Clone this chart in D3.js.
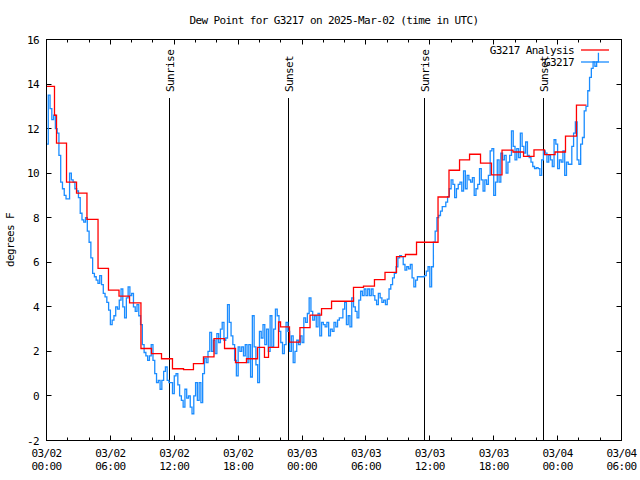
<!DOCTYPE html>
<html><head><meta charset="utf-8">
<script src="https://cdn.jsdelivr.net/npm/d3@7"></script>
<style>
body{margin:0;background:#fff}
svg{display:block}
text{font-family:"DejaVu Sans Mono",monospace;font-size:11px;letter-spacing:-0.6px;fill:#000}
</style></head><body>
<svg id="c" width="640" height="480"></svg>
<script>
// ---- data ----
const titleText = "Dew Point for G3217 on 2025-Mar-02 (time in UTC)";
const yLabelText = "degrees F";
const seriesNames = ["G3217 Analysis", "G3217"];
const obsStart = "2025-03-02T00:00:00Z";
const obsStepMinutes = 10;
const obsValues = [
11.3,13.5,12.9,12.4,12.6,12.0,11.8,10.8,9.6,9.3,
9.0,8.85,8.85,10.0,9.7,9.6,9.3,9.2,8.9,8.2,
7.9,7.8,8.0,7.4,6.9,6.2,5.5,5.35,5.2,5.05,
5.4,5.0,4.6,4.45,4.2,3.85,3.2,3.4,3.6,4.0,
3.9,4.3,4.8,4.0,3.5,4.4,4.9,4.5,4.6,4.0,
3.8,4.1,3.6,3.2,2.3,1.95,1.8,1.6,1.8,2.3,
1.6,1.0,0.6,0.7,0.3,0.7,1.1,1.3,0.7,0.6,
0.6,0.1,0.9,1.0,0.5,0.0,-0.2,-0.5,0.3,-0.1,
0.0,-0.5,-0.8,0.0,0.6,-0.2,0.6,-0.3,1.0,1.7,
1.5,2.0,2.85,2.0,2.5,1.9,2.8,2.4,3.0,3.3,
2.5,2.6,4.1,3.3,2.7,2.3,1.6,0.9,2.2,2.0,
2.2,1.8,2.3,1.5,2.3,0.85,3.6,2.2,1.4,0.6,
2.9,2.6,3.2,2.3,3.0,2.0,3.6,2.2,3.0,3.9,
3.6,2.9,2.4,1.9,2.3,3.3,2.9,2.0,2.7,1.5,
2.0,2.5,2.3,2.7,2.4,3.5,3.3,3.7,4.4,3.8,
3.4,3.6,3.1,3.7,2.7,3.3,3.2,3.1,3.3,2.7,
3.0,2.9,3.3,3.1,3.4,3.5,3.5,3.9,4.2,3.2,
3.6,3.1,4.4,4.0,3.8,3.5,4.3,4.7,4.5,4.8,
4.5,4.8,4.5,4.8,4.5,4.3,4.1,4.6,4.4,4.2,
4.3,4.1,4.35,4.8,5.0,5.3,5.5,5.8,6.2,6.3,
6.25,5.9,5.65,5.8,5.7,5.9,5.3,4.9,5.2,5.35,
5.35,5.35,5.35,5.4,5.6,5.8,4.9,5.8,6.9,7.4,
8.0,8.1,8.3,8.5,8.5,8.7,8.95,9.3,9.7,9.5,
8.9,9.3,9.5,9.6,9.2,10.1,9.3,9.9,9.7,9.6,
9.8,9.0,9.3,9.5,10.2,9.7,9.2,9.7,9.5,9.9,
11.0,11.1,9.0,9.6,10.6,9.6,10.9,10.6,10.8,10.0,
10.5,10.8,11.9,11.2,10.6,11.1,10.7,11.8,11.2,10.9,
11.4,10.8,10.7,10.5,10.3,10.2,10.25,10.2,9.9,10.6,
11.0,10.9,10.5,10.8,10.6,10.3,11.5,11.3,10.2,10.6,
10.5,11.0,9.9,10.5,10.4,10.4,11.2,11.8,12.3,10.6,
10.4,11.3,11.6,12.8,13.0,13.7,14.3,14.7,15.0,14.8,
15.0,15.4
];
const analysisHours = [0,0.75,0.94,1.88,2.82,3.8,4.84,5.82,6.81,7.8,8.87,9.86,10.8,11.83,12.87,13.8,14.74,15.73,16.72,17.75,18.78,19.82,20.47,20.85,21.79,21.98,22.82,23.8,24.75,25.83,26.77,28.83,29.77,30.8,31.79,32.87,33.71,34.75,36.77,37.8,38.79,39.73,40.76,41.79,42.78,43.81,44.8,45.78,46.77,47.76,48.74,49.77,50.71];
const analysisValues = [13.9,12.6,11.35,9.6,9.1,7.93,5.73,4.75,4.48,4.18,2.13,1.9,1.67,1.22,1.18,1.45,1.75,2.57,2.13,1.5,1.67,2.18,1.73,2.18,3.32,3.1,2.42,3.07,3.63,3.92,4.25,4.87,4.93,5.22,5.55,6.25,6.35,6.9,8.93,10.13,10.6,10.85,10.45,9.92,11.03,10.95,10.75,11.05,10.83,10.95,11.66,13.05,13.05];
const sunLabels = ["Sunrise","Sunset","Sunrise","Sunset"];
const sunTimes = ["2025-03-02T11:33:00Z","2025-03-02T22:44:00Z","2025-03-03T11:30:00Z","2025-03-03T22:41:00Z"];
const yTicks = [-2,0,2,4,6,8,10,12,14,16];
const xDomain = ["2025-03-02T00:00:00Z","2025-03-04T06:00:00Z"];

// ---- chart ----
const svg = d3.select("#c");
const L = 46.5, R = 621.5, T = 39.5, B = 440.5;
const x = d3.scaleUtc().domain(xDomain.map(d => new Date(d))).range([L, R]);
const y = d3.scaleLinear().domain([-2, 16]).range([B, T]);
const t0 = new Date(obsStart).getTime();

svg.append("rect").attr("width",640).attr("height",480).attr("fill","#fff");

svg.append("defs").append("clipPath").attr("id","clip")
  .append("rect").attr("x",L).attr("y",T).attr("width",R-L).attr("height",B-T);

// ticks
const majors = x.ticks(d3.utcHour.every(6));
const minors = x.ticks(d3.utcHour.every(2));
const tg = svg.append("g").attr("stroke","#000").attr("stroke-width",1);
minors.forEach(d => {
  const px = Math.floor(x(d)) + 0.5;
  const isMajor = d.getUTCHours() % 6 === 0;
  const len = isMajor ? 5 : 3;
  tg.append("line").attr("x1",px).attr("x2",px).attr("y1",B).attr("y2",B-len);
  tg.append("line").attr("x1",px).attr("x2",px).attr("y1",T).attr("y2",T+len);
});
yTicks.forEach(v => {
  const py = Math.round(y(v) - 0.5) + 0.5;
  tg.append("line").attr("x1",L).attr("x2",L+5).attr("y1",py).attr("y2",py);
  tg.append("line").attr("x1",R).attr("x2",R-5).attr("y1",py).attr("y2",py);
});

// tick labels
const fmtD = d3.utcFormat("%m/%d"), fmtT = d3.utcFormat("%H:%M");
majors.forEach(d => {
  svg.append("text").attr("x",x(d)).attr("y",457).attr("text-anchor","middle").text(fmtD(d));
  svg.append("text").attr("x",x(d)).attr("y",470).attr("text-anchor","middle").text(fmtT(d));
});
yTicks.forEach(v => {
  svg.append("text").attr("x",39).attr("y",y(v)+4).attr("text-anchor","end").text(v);
});

// title and y label
svg.append("text").attr("x",(L+R)/2).attr("y",24).attr("text-anchor","middle").text(titleText);
svg.append("text").attr("transform","translate(14,240) rotate(-90)").attr("text-anchor","middle").text(yLabelText);

// sunrise / sunset
sunTimes.forEach((s,i) => {
  const px = Math.floor(x(new Date(s))) + 0.5;
  svg.append("line").attr("x1",px).attr("x2",px).attr("y1",98).attr("y2",B)
    .attr("stroke","#000").attr("stroke-width",1);
  svg.append("text").attr("transform",`translate(${px+4},92) rotate(-90)`)
    .attr("text-anchor","start").text(sunLabels[i]);
});

// data
const gData = svg.append("g").attr("clip-path","url(#clip)");
const obs = obsValues.map((v,i) => ({t:new Date(t0 + i*obsStepMinutes*60000), v}));
const ana = analysisHours.map((h,i) => ({t:new Date(t0 + h*3600000), v:analysisValues[i]}));
const line = d3.line().x(d => x(d.t)).y(d => y(d.v)).curve(d3.curveStepAfter);
gData.append("path").datum(obs).attr("d",line).attr("fill","none")
  .attr("stroke","#1a8cff").attr("stroke-width",1.3);
gData.append("path").datum(ana).attr("d",line).attr("fill","none")
  .attr("stroke","#ff0000").attr("stroke-width",1.3);

// legend
const legColors = ["#ff0000","#1a8cff"];
seriesNames.forEach((n,i) => {
  const ly = 50 + i*12;
  svg.append("text").attr("x",574).attr("y",ly+4).attr("text-anchor","end").text(n);
  svg.append("line").attr("x1",581).attr("x2",609).attr("y1",ly).attr("y2",ly)
    .attr("stroke",legColors[i]).attr("stroke-width",1.3);
});

// border
svg.append("rect").attr("x",L).attr("y",T).attr("width",R-L).attr("height",B-T)
  .attr("fill","none").attr("stroke","#000").attr("stroke-width",1);
</script>
</body></html>
